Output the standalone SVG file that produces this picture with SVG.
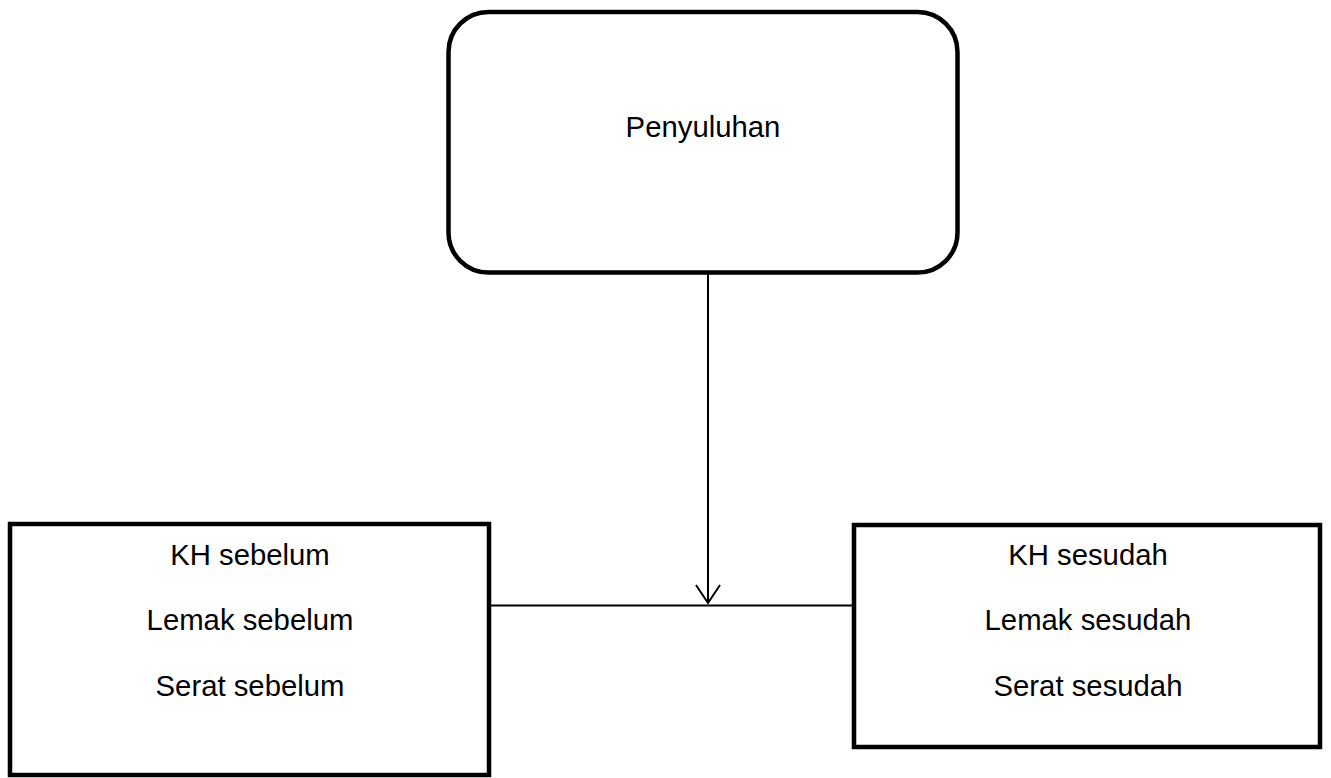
<svg xmlns="http://www.w3.org/2000/svg" width="1331" height="778" viewBox="0 0 1331 778">
<style>
.box{fill:#fff;stroke:#000;stroke-width:4.5}
.t{font-family:"Liberation Sans",Arial,sans-serif;font-size:29.3px;fill:#000;text-anchor:middle}
.c{stroke:#000;stroke-width:2;fill:none}
</style>
<defs>
<marker id="arr" markerUnits="userSpaceOnUse" markerWidth="30" markerHeight="30" refX="13" refY="19" orient="auto-start-reverse" viewBox="0 0 26 22">
<path d="M1,1 L13,19 L25,1" fill="none" stroke="#000" stroke-width="2"/>
</marker>
</defs>
<rect width="1331" height="778" fill="#fff"/>
<g id="penyuluhan">
<rect class="box" x="448.5" y="12" width="509" height="260.5" rx="40" ry="40"/>
<text class="t" x="703" y="137">Penyuluhan</text>
</g>
<g id="sebelum">
<rect class="box" x="10" y="524" width="479" height="251"/>
<text class="t" x="250" y="565">KH sebelum</text>
<text class="t" x="250" y="630">Lemak sebelum</text>
<text class="t" x="250" y="696">Serat sebelum</text>
</g>
<g id="sesudah">
<rect class="box" x="854" y="525" width="466" height="222"/>
<text class="t" x="1088" y="565">KH sesudah</text>
<text class="t" x="1088" y="630">Lemak sesudah</text>
<text class="t" x="1088" y="696">Serat sesudah</text>
</g>
<g id="connectors">
<line class="c" x1="491" y1="605.5" x2="852" y2="605.5"/>
<path class="c" d="M708,274 L708,603"/>
<path class="c" d="M696,585 L708,603 L720,585"/>
</g>
</svg>
